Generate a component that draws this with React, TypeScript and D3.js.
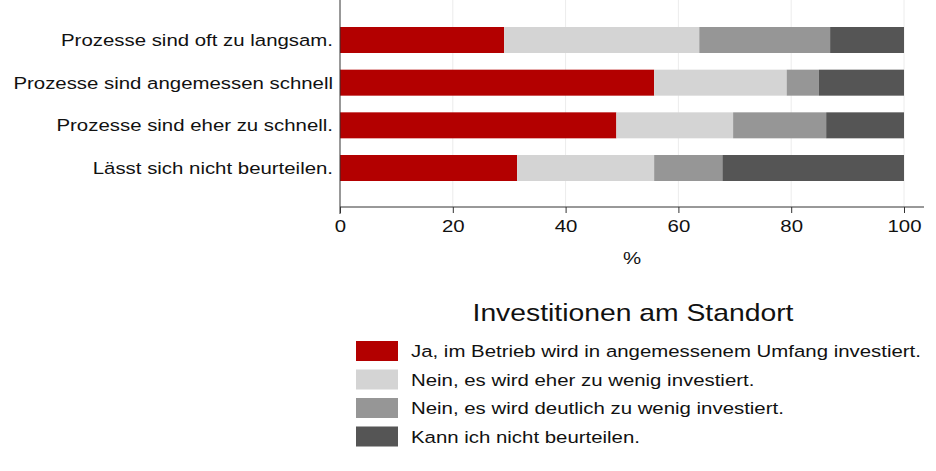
import React, { useEffect, useRef } from "react";
import * as d3 from "d3";

const categories = [
  "Prozesse sind oft zu langsam.",
  "Prozesse sind angemessen schnell",
  "Prozesse sind eher zu schnell.",
  "Lässt sich nicht beurteilen.",
];
const seriesNames = [
  "Ja, im Betrieb wird in angemessenem Umfang investiert.",
  "Nein, es wird eher zu wenig investiert.",
  "Nein, es wird deutlich zu wenig investiert.",
  "Kann ich nicht beurteilen.",
];
const jaValues = [29.1, 55.7, 49.0, 31.4];
const eherValues = [34.6, 23.5, 20.7, 24.3];
const deutlichValues = [23.2, 5.7, 16.5, 12.1];
const kannNichtValues = [13.1, 15.1, 13.8, 32.2];
const xTicks = [0, 20, 40, 60, 80, 100];
const colors = ["#b30000", "#d4d4d4", "#969696", "#555555"];
const legendTitle = "Investitionen am Standort";
const xLabel = "%";

const W = 936;
const H = 471;
const FONT = "'Liberation Sans', Arial, sans-serif";
const SX = 1.2;

export default function App() {
  const ref = useRef<SVGSVGElement>(null);
  useEffect(() => {
    const svg = d3.select(ref.current);
    svg.selectAll("*").remove();
    const x = d3.scaleLinear().domain([0, 100]).range([340, 904]);
    const y = d3.scalePoint<string>().domain(categories).range([1, 207]).padding(0.914);
    const barH = 26;
    const series = [jaValues, eherValues, deutlichValues, kannNichtValues];
    const rows = categories.map((c, i) => {
      const o: any = { cat: c };
      series.forEach((s, k) => (o["s" + k] = s[i]));
      return o;
    });
    const stack = d3.stack<any>().keys(series.map((_, k) => "s" + k))(rows);

    // grid
    svg.append("g")
      .selectAll("line")
      .data(xTicks.slice(1))
      .join("line")
      .attr("x1", (d) => x(d)).attr("x2", (d) => x(d))
      .attr("y1", 0).attr("y2", 207)
      .attr("stroke", "#ececec").attr("stroke-width", 1);

    // bars
    stack.forEach((layer, k) => {
      svg.append("g")
        .attr("fill", colors[k])
        .selectAll("rect")
        .data(layer)
        .join("rect")
        .attr("x", (d) => x(d[0]))
        .attr("width", (d) => x(d[1]) - x(d[0]))
        .attr("y", (d) => (y(d.data.cat) as number) - barH / 2)
        .attr("height", barH);
    });

    // y axis
    const yAxis = d3.axisLeft(y).tickSize(0).tickPadding(8);
    const gy = svg.append("g").attr("transform", "translate(340,0)").call(yAxis as any);
    gy.select(".domain").attr("stroke", "#333").attr("d", "M0,0V214");
    gy.selectAll("text")
      .attr("x", 0)
      .attr("transform", `translate(-7,0) scale(${SX},1)`)
      .attr("font-family", FONT).attr("font-size", 17).attr("fill", "#111");

    // x axis
    const xAxis = d3.axisBottom(x).tickValues(xTicks).tickSize(6).tickPadding(7).tickSizeOuter(0);
    const gx = svg.append("g").attr("transform", "translate(0,207)").call(xAxis as any);
    gx.select(".domain").attr("stroke", "#333").attr("d", "M340,0H924");
    gx.selectAll(".tick line").attr("stroke", "#333");
    gx.selectAll("text")
      .attr("transform", `scale(${SX},1)`)
      .attr("font-family", FONT).attr("font-size", 17).attr("fill", "#111");

    svg.append("g").attr("transform", `translate(632,264) scale(${SX},1)`)
      .append("text")
      .attr("text-anchor", "middle")
      .attr("font-family", FONT).attr("font-size", 17).attr("fill", "#111")
      .text(xLabel);

    // legend
    svg.append("g").attr("transform", `translate(633,321) scale(1.18,1)`)
      .append("text")
      .attr("text-anchor", "middle")
      .attr("font-family", FONT).attr("font-size", 24).attr("fill", "#111")
      .text(legendTitle);
    const lg = svg.append("g");
    seriesNames.forEach((name, k) => {
      const cy = 351 + k * 28.5;
      lg.append("rect").attr("x", 356).attr("y", cy - 10).attr("width", 42).attr("height", 20).attr("fill", colors[k]);
      lg.append("g").attr("transform", `translate(411,${cy + 6}) scale(${SX},1)`)
        .append("text")
        .attr("font-family", FONT).attr("font-size", 17).attr("fill", "#111")
        .text(name);
    });
  }, []);
  return (
    <svg ref={ref} width={W} height={H} style={{ position: "absolute", left: 0, top: 0, background: "#fff" }} />
  );
}
